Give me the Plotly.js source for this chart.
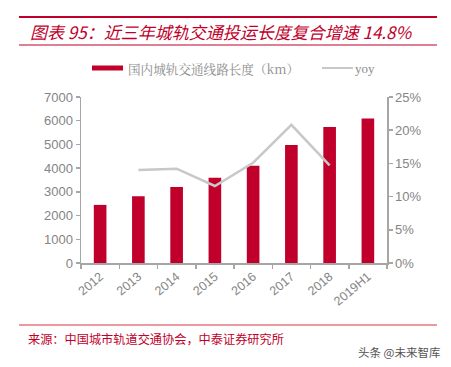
<!DOCTYPE html>
<html>
<head>
<meta charset="utf-8">
<script src="https://cdn.plot.ly/plotly-3.0.1.min.js"></script>
<style>html,body{margin:0;padding:0;background:#fff;}#chart{width:451px;height:367px;}</style>
</head>
<body>
<div id="chart"></div>
<script>
const categories = ['2012', '2013', '2014', '2015', '2016', '2017', '2018', '2019H1'];
const lengthKm = [2450, 2810, 3200, 3590, 4100, 4980, 5740, 6090];
const yoyPct = [null, 14.0, 14.2, 11.6, 15.1, 20.8, 14.7, null];
const leftTicks = [0, 1000, 2000, 3000, 4000, 5000, 6000, 7000];
const rightTicks = [0, 5, 10, 15, 20, 25];

const W = 451, H = 367;
const L = 81, R = 387, T = 97, B = 263;
const px2x = p => (p - L) / (R - L);
const px2y = p => (B - p) / (B - T);

const red = '#c0002b';
const cjk = '"Noto Sans CJK SC", "Noto Sans", sans-serif';

const traces = [
  {
    type: 'bar', x: categories, y: lengthKm, name: '国内城轨交通线路长度（km）',
    marker: {color: red}, width: 0.33, yaxis: 'y', showlegend: false, hoverinfo: 'skip'
  },
  {
    type: 'scatter', mode: 'lines', x: categories, y: yoyPct, name: 'yoy',
    line: {color: '#c8c8c8', width: 2.5}, yaxis: 'y2', showlegend: false, hoverinfo: 'skip'
  }
];

const axisCommon = {
  showgrid: false, zeroline: false, showline: true, linecolor: '#a6a6a6', linewidth: 1.5,
  ticks: 'outside', ticklen: 4, tickcolor: '#a6a6a6', tickwidth: 1.5,
  tickfont: {family: 'Arial, "Liberation Sans", sans-serif', size: 13, color: '#858585'}
};

const layout = {
  width: W, height: H,
  margin: {l: L, r: W - R, t: T, b: H - B, pad: 0},
  paper_bgcolor: '#fff', plot_bgcolor: '#fff',
  showlegend: false,
  title: {
    text: '<i>图表 95：近三年城轨交通投运长度复合增速 14.8%</i>',
    x: 30 / W, xanchor: 'left', y: 1 - 33 / H, yanchor: 'middle',
    font: {family: cjk, size: 17, color: '#c0002b'}
  },
  xaxis: Object.assign({}, axisCommon, {
    type: 'category', range: [-0.5, 7.5], tickson: 'boundaries',
    tickangle: -40, tickfont: {family: 'Arial, "Liberation Sans", sans-serif', size: 12.5, color: '#858585'}
  }),
  yaxis: Object.assign({}, axisCommon, {
    range: [0, 7000], tickvals: leftTicks, ticktext: leftTicks.map(String)
  }),
  yaxis2: Object.assign({}, axisCommon, {
    overlaying: 'y', side: 'right', range: [0, 25],
    tickvals: rightTicks, ticktext: rightTicks.map(v => v + '%')
  }),
  shapes: [
    {type: 'line', xref: 'paper', yref: 'paper', x0: px2x(19), x1: px2x(437), y0: px2y(17), y1: px2y(17), line: {color: '#c0002b', width: 2}},
    {type: 'line', xref: 'paper', yref: 'paper', x0: px2x(19), x1: px2x(437), y0: px2y(45), y1: px2y(45), line: {color: '#c0002b', width: 1}},
    {type: 'line', xref: 'paper', yref: 'paper', x0: px2x(19), x1: px2x(437), y0: px2y(325), y1: px2y(325), line: {color: '#d9363e', width: 1.2}},
    {type: 'rect', xref: 'paper', yref: 'paper', x0: px2x(92), x1: px2x(123), y0: px2y(70.5), y1: px2y(65.5), fillcolor: red, line: {width: 0}},
    {type: 'line', xref: 'paper', yref: 'paper', x0: px2x(322), x1: px2x(353), y0: px2y(68), y1: px2y(68), line: {color: '#c8c8c8', width: 2}}
  ],
  annotations: [
    {xref: 'paper', yref: 'paper', x: px2x(126), y: px2y(68), xanchor: 'left', yanchor: 'middle', showarrow: false,
     text: '国内城轨交通线路长度（km）', font: {family: '"Noto Serif CJK SC", "Noto Sans CJK SC", serif', size: 12.6, color: '#8c8c8c'}},
    {xref: 'paper', yref: 'paper', x: px2x(353), y: px2y(68), xanchor: 'left', yanchor: 'middle', showarrow: false,
     text: 'yoy', font: {family: '"Liberation Serif", "DejaVu Serif", serif', size: 13, color: '#8c8c8c'}},
    {xref: 'paper', yref: 'paper', x: px2x(26), y: px2y(339), xanchor: 'left', yanchor: 'middle', showarrow: false,
     text: '来源：中国城市轨道交通协会，中泰证券研究所', font: {family: cjk, size: 12.2, color: '#c0002b'}},
    {xref: 'paper', yref: 'paper', x: px2x(442), y: px2y(352), xanchor: 'right', yanchor: 'middle', showarrow: false,
     text: '头条 @未来智库', font: {family: cjk, size: 11.5, color: '#555555'}}
  ]
};

Plotly.newPlot('chart', traces, layout, {staticPlot: true, displayModeBar: false});
</script>
</body>
</html>
